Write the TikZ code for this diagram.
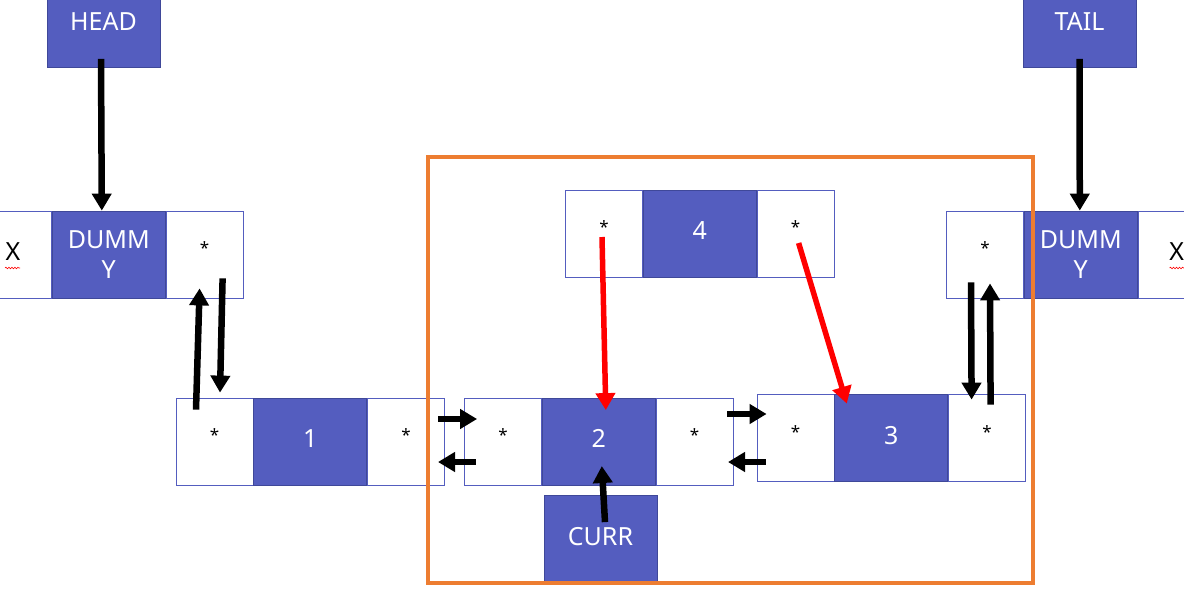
\documentclass[tikz,border=0pt]{standalone}
\usepackage{fontspec}
\setmainfont{Noto Sans}
\usetikzlibrary{positioning,arrows.meta,decorations.pathmorphing}
\definecolor{boxblue}{RGB}{84,93,191}
\definecolor{edgeblue}{RGB}{63,72,153}
\definecolor{frameorange}{RGB}{237,125,49}
\tikzset{
    base/.style={line width=0.8pt, minimum height=87pt, inner sep=0pt, font=\fontsize{25}{30}\selectfont},
    cell/.style={base, draw=boxblue, fill=white, minimum width=77pt, text height=18pt, text depth=6pt},
    star/.style={cell, font=\fontsize{17}{20}\selectfont\bfseries, text height=10pt, text depth=10pt},
    val/.style={base, draw=edgeblue, fill=boxblue, text=white, minimum width=113pt, text height=18pt, text depth=6pt},
    dummy/.style={base, draw=edgeblue, fill=boxblue, text=white, minimum width=113pt, align=center},
    ptr/.style={line width=6.5pt, -{Triangle[length=17pt,width=19pt]}},
    newptr/.style={ptr, red, line width=5.5pt},
    squiggle/.style={red, line width=0.6pt, decorate, decoration={snake, amplitude=0.8pt, segment length=3pt}}
}
\begin{document}
\begin{tikzpicture}[x=1pt, y=-1pt]
    \useasboundingbox (0,0) rectangle (1184,595);
    \clip (0,0) rectangle (1184,595);

    \node[val] (head) at (103.5,24) {HEAD};
    \node[val] (tail) at (1079.5,24) {TAIL};

    \node[cell] (dlx) at (13,254.5) {X};
    \node[dummy, right=0pt of dlx] (dlv) {DUMM\\Y};
    \node[star, right=0pt of dlv] (dlp) {*};

    \node[star] (drp) at (985,254.5) {*};
    \node[dummy, right=0pt of drp] (drv) {DUMM\\Y};
    \node[cell, right=0pt of drv] (drx) {X};

    \node[star] (n1l) at (214.5,441.5) {*};
    \node[val, right=0pt of n1l] (n1v) {1};
    \node[star, right=0pt of n1v] (n1r) {*};

    \node[star] (n2l) at (503,441.5) {*};
    \node[val, right=0pt of n2l] (n2v) {2};
    \node[star, right=0pt of n2v] (n2r) {*};

    \node[star] (n3l) at (795.5,438) {*};
    \node[val, right=0pt of n3l] (n3v) {3};
    \node[star, right=0pt of n3v] (n3r) {*};

    \node[star] (n4l) at (604,233.5) {*};
    \node[val, right=0pt of n4l] (n4v) {4};
    \node[star, right=0pt of n4v] (n4r) {*};

    \node[val] (curr) at (600.5,539) {CURR};

    \draw[squiggle] ([xshift=-8pt,yshift=-13.5pt]dlx.center) -- ++(15,0);
    \draw[squiggle] ([xshift=-7pt,yshift=-13.5pt]drx.center) -- ++(15,0);

    \draw[frameorange, line width=4.5pt] (428,157) rectangle (1033,583);

    \draw[ptr] ([xshift=-2.5pt,yshift=9pt]head.south) -- ([xshift=-7pt]dlv.north);
    \draw[ptr] ([yshift=9pt]tail.south) -- ([xshift=-1pt]drv.north);

    \draw[ptr] ([xshift=-18.5pt,yshift=-12pt]n1l.north) -- ([xshift=-5pt,yshift=10pt]dlp.south);
    \draw[ptr] ([xshift=18pt,yshift=20pt]dlp.south) -- ([xshift=5.5pt,yshift=5pt]n1l.north);
    \draw[ptr] ([xshift=-14pt,yshift=16pt]drp.south) -- ([xshift=-15.5pt,yshift=-5.5pt]n3r.north);
    \draw[ptr] ([xshift=3.5pt,yshift=-10.5pt]n3r.north) -- ([xshift=5pt,yshift=15pt]drp.south);

    \draw[ptr] ([xshift=-7pt,yshift=22.5pt]n1r.east) -- ([xshift=13pt,yshift=22.5pt]n2l.west);
    \draw[ptr] ([xshift=11.5pt,yshift=-20.5pt]n2l.west) -- ([xshift=-7pt,yshift=-20.5pt]n1r.east);
    \draw[ptr] ([xshift=-6.5pt,yshift=27.5pt]n2r.east) -- ([xshift=10pt,yshift=24pt]n3l.west);
    \draw[ptr] ([xshift=9pt,yshift=-24pt]n3l.west) -- ([xshift=-5.5pt,yshift=-20.5pt]n2r.east);

    \draw[ptr] ([xshift=4.5pt,yshift=-27pt]curr.north) -- ([xshift=3pt,yshift=-24.5pt]n2v.center);

    \draw[newptr] ([xshift=-2pt,yshift=-3.5pt]n4l.center) -- ([xshift=7pt,yshift=-12.5pt]n2v.north);
    \draw[newptr] ([xshift=3pt,yshift=-9.5pt]n4r.center) -- ([xshift=-44.5pt,yshift=-9.5pt]n3v.north);
\end{tikzpicture}
\end{document}
